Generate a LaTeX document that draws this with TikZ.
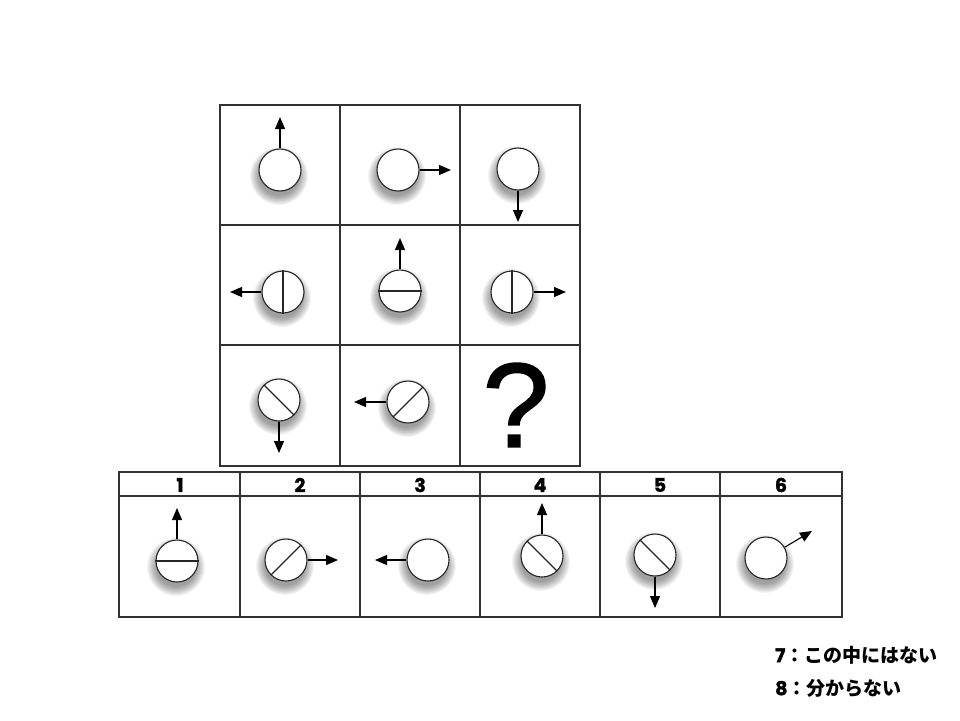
\documentclass[tikz,border=0pt]{standalone}
\usepackage{fontspec}
\setmainfont{Liberation Sans}
\newfontfamily\jpfont{Noto Sans CJK JP}
\newfontfamily\numfont[FakeBold=1.6]{Poppins}
\newfontfamily\qfont[FakeBold=1.3]{Liberation Sans}
\usetikzlibrary{arrows.meta}
\begin{document}
\begin{tikzpicture}[x=1pt,y=-1pt,
  ball/.style={circle, draw=black!85, line width=1.1pt, fill=white, minimum size=42pt, inner sep=0pt},
  arr/.style={line width=1.1pt, -{Triangle[length=12pt,width=10pt]}},
  gridline/.style={draw=black!80, line width=1.3pt},
  split/.style={line width=1.1pt, draw=black!85},
  hdr/.style={font=\numfont\bfseries\fontsize{19}{22}\selectfont},
  shadowpic/.pic={\foreach \r in {20,...,29} \fill[black,opacity=0.045] (-1,6) circle (\r);}]
\useasboundingbox (0,0) rectangle (960,720);
\fill[white] (0,0) rectangle (960,720);

% main grid
\draw[gridline] (220,105) rectangle (580,466);
\draw[gridline] (340,105) -- (340,466) (460,105) -- (460,466)
                (220,225) -- (580,225) (220,345) -- (580,345);

% row 1
\pic at (280,170) {shadowpic};
\node[ball] (a11) at (280,170) {};
\coordinate (t11) at (280,117);
\draw[arr] (a11.north) -- (t11);

\pic at (398,170) {shadowpic};
\node[ball] (a12) at (398,170) {};
\coordinate (t12) at (451,170);
\draw[arr] (a12.east) -- (t12);

\pic at (518,169) {shadowpic};
\node[ball] (a13) at (518,169) {};
\coordinate (t13) at (518,222);
\draw[arr] (a13.south) -- (t13);

% row 2
\pic at (283,292) {shadowpic};
\node[ball] (a21) at (283,292) {};
\draw[split] (a21.north) -- (a21.south);
\coordinate (t21) at (230,292);
\draw[arr] (a21.west) -- (t21);

\pic at (400,291) {shadowpic};
\node[ball] (a22) at (400,291) {};
\draw[split] (a22.west) -- (a22.east);
\coordinate (t22) at (400,238);
\draw[arr] (a22.north) -- (t22);

\pic at (512,292) {shadowpic};
\node[ball] (a23) at (512,292) {};
\draw[split] (a23.north) -- (a23.south);
\coordinate (t23) at (566,292);
\draw[arr] (a23.east) -- (t23);

% row 3
\pic at (279,400) {shadowpic};
\node[ball] (a31) at (279,400) {};
\draw[split] (a31.north west) -- (a31.south east);
\coordinate (t31) at (279,453);
\draw[arr] (a31.south) -- (t31);

\pic at (408,402) {shadowpic};
\node[ball] (a32) at (408,402) {};
\draw[split] (a32.north east) -- (a32.south west);
\coordinate (t32) at (354,402);
\draw[arr] (a32.west) -- (t32);

\node[font=\qfont\fontsize{120}{130}\selectfont, inner sep=0pt] (q) at (516,405) {?};

% answer panel
\draw[gridline] (119,472) rectangle (842,617);
\draw[gridline] (119,496) -- (842,496);
\foreach \x in {240,360,480,600,720} \draw[gridline] (\x,472) -- (\x,617);
\node[hdr] (h1) at (180,485) {1};
\node[hdr] (h2) at (300,485) {2};
\node[hdr] (h3) at (420,485) {3};
\node[hdr] (h4) at (540,485) {4};
\node[hdr] (h5) at (660,485) {5};
\node[hdr] (h6) at (781,485) {6};

\pic at (177,561) {shadowpic};
\node[ball] (b1) at (177,561) {};
\draw[split] (b1.west) -- (b1.east);
\coordinate (u1) at (177,508);
\draw[arr] (b1.north) -- (u1);

\pic at (286,560) {shadowpic};
\node[ball] (b2) at (286,560) {};
\draw[split] (b2.north east) -- (b2.south west);
\coordinate (u2) at (338,560);
\draw[arr] (b2.east) -- (u2);

\pic at (428,560) {shadowpic};
\node[ball] (b3) at (428,560) {};
\coordinate (u3) at (375,560);
\draw[arr] (b3.west) -- (u3);

\pic at (542,556) {shadowpic};
\node[ball] (b4) at (542,556) {};
\draw[split] (b4.north west) -- (b4.south east);
\coordinate (u4) at (542,503);
\draw[arr] (b4.north) -- (u4);

\pic at (655,555) {shadowpic};
\node[ball] (b5) at (655,555) {};
\draw[split] (b5.north west) -- (b5.south east);
\coordinate (u5) at (655,608);
\draw[arr] (b5.south) -- (u5);

\pic at (766,558) {shadowpic};
\node[ball] (b6) at (766,558) {};
\coordinate (u6) at (812,531);
\draw[arr] (b6.30) -- (u6);

% extra options
\node[anchor=west, inner sep=0pt] (o7) at (775,655) {{\numfont\bfseries\fontsize{19}{22}\selectfont 7}{\jpfont\bfseries\fontsize{19}{22}\selectfont ：この中にはない}};
\node[anchor=west, inner sep=0pt] (o8) at (775,688) {{\numfont\bfseries\fontsize{19}{22}\selectfont 8}{\jpfont\bfseries\fontsize{19}{22}\selectfont ：分からない}};
\end{tikzpicture}
\end{document}
